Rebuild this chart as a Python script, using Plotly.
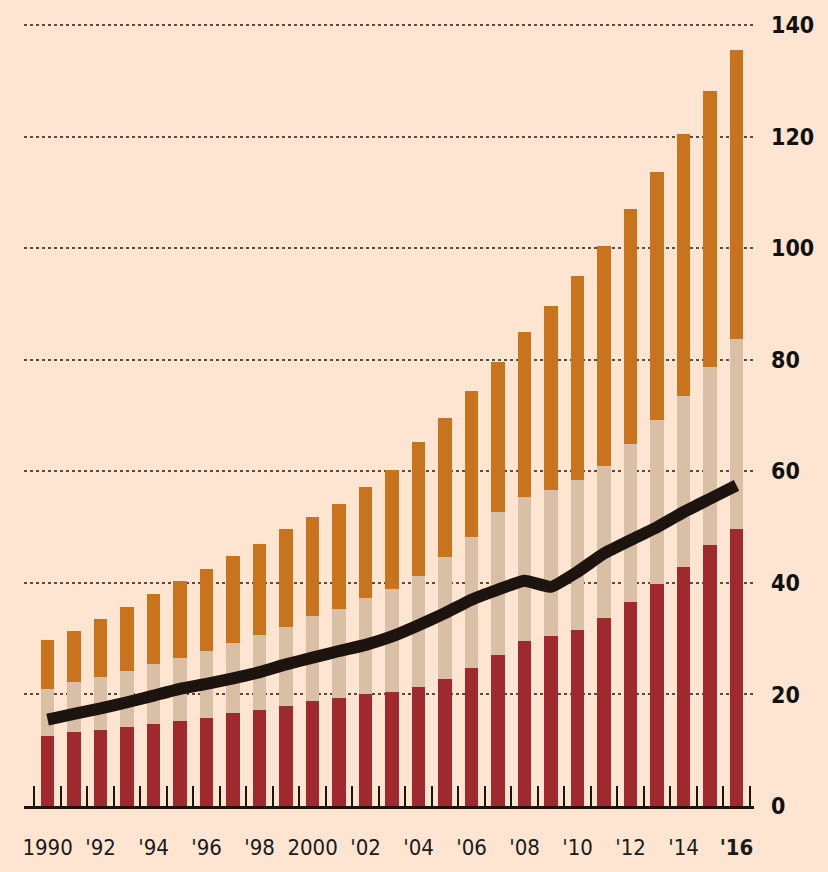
import plotly.graph_objects as go

years = list(range(1990, 2017))
tick_years = list(range(1990, 2017, 2))
tick_text = ["1990", "'92", "'94", "'96", "'98", "2000", "'02", "'04", "'06",
             "'08", "'10", "'12", "'14", "<b>'16</b>"]

red_vals = [12.5, 13.2, 13.6, 14.2, 14.7, 15.2, 15.8, 16.7, 17.2, 17.9, 18.9, 19.4,
            20.1, 20.5, 21.3, 22.7, 24.8, 27.0, 29.6, 30.5, 31.5, 33.7, 36.6, 39.9,
            42.9, 46.8, 49.6]
tan_vals = [8.5, 9.1, 9.6, 10.0, 10.7, 11.3, 12.0, 12.6, 13.4, 14.2, 15.1, 16.0,
            17.2, 18.4, 20.0, 21.9, 23.5, 25.7, 25.8, 26.2, 26.9, 27.3, 28.3, 29.3,
            30.7, 32.0, 34.2]
orange_vals = [8.7, 9.0, 10.3, 11.5, 12.6, 13.9, 14.7, 15.6, 16.3, 17.5, 17.8, 18.8,
               19.9, 21.4, 23.9, 25.0, 26.1, 27.0, 29.6, 33.0, 36.6, 39.5, 42.1, 44.5,
               46.9, 49.5, 51.7]
line_vals = [15.5, 16.5, 17.5, 18.6, 19.8, 21.0, 21.9, 22.9, 24.0, 25.4, 26.6, 27.8,
             28.9, 30.4, 32.4, 34.6, 37.0, 38.8, 40.4, 39.3, 42.0, 45.3, 47.7, 50.0,
             52.7, 55.1, 57.5]
y_ticks = [0, 20, 40, 60, 80, 100, 120, 140]

BG = "#FDE5D1"
RED = "#9E2A2F"
TAN = "#D8BFA6"
ORANGE = "#C8741E"
INK = "#1E140F"
FONT = "Liberation Sans Narrow, DejaVu Sans Condensed, sans-serif"

fig = go.Figure()
fig.add_trace(go.Bar(x=years, y=red_vals, marker=dict(color=RED, line=dict(width=0)),
                     width=0.52, hoverinfo="skip"))
fig.add_trace(go.Bar(x=years, y=tan_vals, marker=dict(color=TAN, line=dict(width=0)),
                     width=0.52, hoverinfo="skip"))
fig.add_trace(go.Bar(x=years, y=orange_vals, marker=dict(color=ORANGE, line=dict(width=0)),
                     width=0.52, hoverinfo="skip"))
fig.add_trace(go.Scatter(x=years, y=line_vals, mode="lines",
                         line=dict(color=INK, width=12, shape="spline", smoothing=0.4),
                         hoverinfo="skip"))

fig.update_layout(
    width=828, height=872,
    margin=dict(l=24, r=74, t=22, b=60),
    paper_bgcolor=BG, plot_bgcolor=BG,
    barmode="stack", showlegend=False,
    xaxis=dict(
        range=[1989.11, 2016.66],
        tickmode="array", tickvals=tick_years, ticktext=tick_text,
        ticks="", showgrid=False, zeroline=False,
        showline=True, linecolor=INK, linewidth=2.5,
        tickfont=dict(family=FONT, size=22, color="#1a1a1a"),
        ticklabelstandoff=20,
        minor=dict(tickmode="linear", tick0=1989.5, dtick=1, ticks="inside",
                   ticklen=20, tickwidth=2, tickcolor=INK, showgrid=False),
    ),
    yaxis=dict(
        range=[0, 140.6], side="right",
        tickmode="array", tickvals=y_ticks,
        ticks="", showgrid=True, gridcolor="#5C4A3E", gridwidth=1.6, griddash="dot",
        zeroline=False, showline=False,
        tickfont=dict(family=FONT, size=23, color="#111111", weight="bold"),
        ticklabelstandoff=16,
    ),
)

fig.write_html("out.html",
               config={"displayModeBar": False},
               post_script="document.body.style.margin='0';"
                           "document.body.style.background='" + BG + "';")
